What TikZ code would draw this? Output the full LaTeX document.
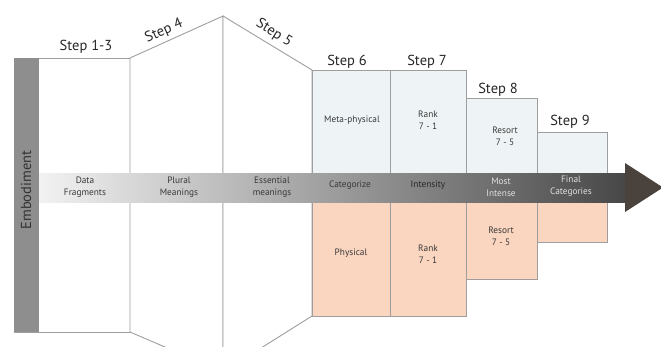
\documentclass[tikz,border=0pt]{standalone}
\usepackage{fontspec}
\setmainfont{PT Sans}
\begin{document}
\begin{tikzpicture}[x=1pt,y=-1pt,
  edge/.style={draw=black!38,line width=0.9pt},
  steplbl/.style={font=\fontsize{14.5}{15}\selectfont,text=black!85,inner sep=0pt},
  small/.style={font=\fontsize{9.3}{12}\selectfont,align=center,inner sep=0pt,text=black!78},
  arrlbl/.style={small},
  arrlbllight/.style={small,text=white!88!black}]
\useasboundingbox (0,0) rectangle (661,346);
\clip (0,0) rectangle (661,346);
\definecolor{topc}{HTML}{EEF4F5}
\definecolor{botc}{HTML}{FAD5C0}
\definecolor{headc}{HTML}{4A423C}
\definecolor{barc}{HTML}{8E8E8E}
% white stages
\coordinate (a1) at (39,58);  \coordinate (a2) at (130,58);
\coordinate (a3) at (130,332); \coordinate (a4) at (14,332);
\draw[edge,fill=white] (a1) -- (a2) -- (a3) -- (a4);
\coordinate (b1) at (223,16); \coordinate (b2) at (223,372);
\draw[edge,fill=white] (a2) -- (b1) -- (b2) -- (a3) -- cycle;
\coordinate (c1) at (312,70); \coordinate (c2) at (312,316);
\draw[edge,fill=white] (b1) -- (c1) -- (c2) -- (b2) -- cycle;
% coloured steps
\draw[edge,fill=topc] (312,70) rectangle (390,188);
\draw[edge,fill=botc] (312,188) rectangle (390,316);
\draw[edge,fill=topc] (390,70) rectangle (466,188);
\draw[edge,fill=botc] (390,188) rectangle (466,316);
\draw[edge,fill=topc] (466,98) rectangle (537,188);
\draw[edge,fill=botc] (466,188) rectangle (537,279);
\draw[edge,fill=topc] (537,132) rectangle (607,188);
\draw[edge,fill=botc] (537,188) rectangle (607,242);
% embodiment bar
\fill[barc] (14,58) rectangle (39,332);
\node[rotate=90,font=\fontsize{14.5}{15}\selectfont,text=black!80,inner sep=0pt] (emb) at (26,190) {Embodiment};
% arrow
\shade[left color=white!95!black,right color=black!72] (39,173) rectangle (626,202);
\coordinate (h1) at (625,163); \coordinate (h2) at (663,187.5); \coordinate (h3) at (625,212);
\fill[headc] (h1) -- (h2) -- (h3) -- cycle;
% step labels
\node[steplbl] (s13) at (86,47) {Step 1-3};
\node[steplbl,rotate=24] (s4) at (164,31) {Step 4};
\node[steplbl,rotate=-32] (s5) at (274,33) {Step 5};
\node[steplbl] (s6) at (347,62) {Step 6};
\node[steplbl] (s7) at (427,62) {Step 7};
\node[steplbl] (s8) at (498,90) {Step 8};
\node[steplbl] (s9) at (570,122) {Step 9};
% box labels
\node[small] (t6) at (352,120) {Meta-physical};
\node[small] (t7) at (428,120) {Rank\\7 - 1};
\node[small] (t8) at (505,136) {Resort\\7 - 5};
\node[small] (u6) at (351,253) {Physical};
\node[small] (u7) at (428,254) {Rank\\7 - 1};
\node[small] (u8) at (501,236) {Resort\\7 - 5};
% arrow labels
\node[arrlbl] (l1) at (85,187) {Data\\Fragments};
\node[arrlbl] (l2) at (179,187) {Plural\\Meanings};
\node[arrlbl] (l3) at (272,187) {Essential\\meanings};
\node[arrlbl] (l4) at (350,185) {Categorize};
\node[arrlbl,text=black!85] (l5) at (428,185) {Intensity};
\node[arrlbllight] (l6) at (501,187) {Most\\Intense};
\node[arrlbllight] (l7) at (571,186.5) {Final\\Categories};
\end{tikzpicture}
\end{document}
